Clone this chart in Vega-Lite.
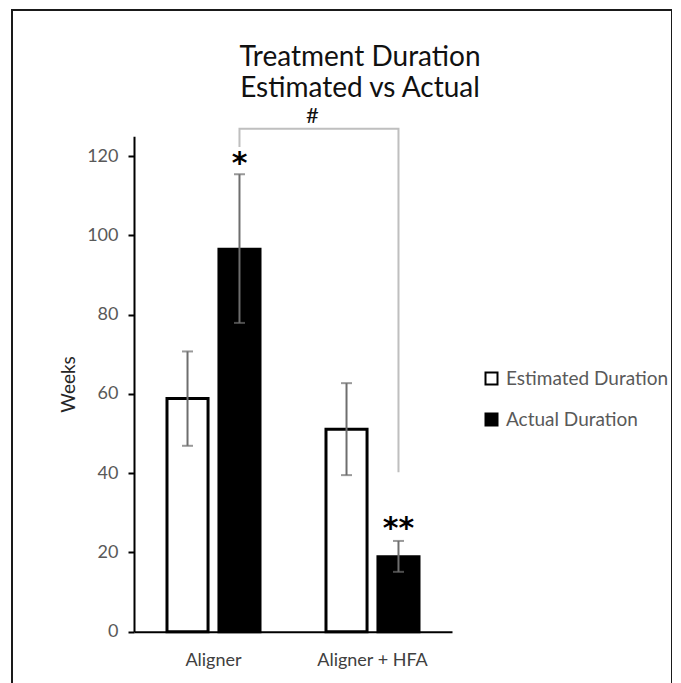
{
  "$schema": "https://vega.github.io/schema/vega-lite/v6.json",
  "autosize": {"type": "none"},
  "padding": {"left": 12, "top": 10, "right": 0, "bottom": 0},
  "width": 660,
  "height": 700,
  "background": "white",
  "config": {
    "view": {"stroke": "#1a1a1a", "strokeWidth": 2},
    "font": "Lato"
  },
  "title": {
    "text": ["Treatment Duration", "Estimated vs Actual"],
    "font": "Lato",
    "fontSize": 28,
    "fontWeight": "normal",
    "color": "#111111",
    "anchor": "middle",
    "frame": "group",
    "baseline": "top",
    "offset": 0,
    "lineHeight": 31,
    "dx": 18,
    "dy": 93
  },
  "datasets": {
    "bars": [
      {"group": "Aligner", "series": "Estimated Duration", "value": 58.8, "lo": 46.9, "hi": 70.7},
      {"group": "Aligner", "series": "Actual Duration", "value": 96.5, "lo": 77.9, "hi": 115.4},
      {"group": "Aligner + HFA", "series": "Estimated Duration", "value": 51.1, "lo": 39.5, "hi": 62.7},
      {"group": "Aligner + HFA", "series": "Actual Duration", "value": 18.9, "lo": 15.1, "hi": 22.9}
    ],
    "stars": [
      {"group": "Aligner", "series": "Actual Duration", "y": 115.6, "label": "*"},
      {"group": "Aligner + HFA", "series": "Actual Duration", "y": 23.6, "label": "**"}
    ],
    "bracket": [
      {"group": "Aligner", "series": "Actual Duration", "y": 122.3, "order": 1},
      {"group": "Aligner", "series": "Actual Duration", "y": 126.9, "order": 2},
      {"group": "Aligner + HFA", "series": "Actual Duration", "y": 126.9, "order": 3},
      {"group": "Aligner + HFA", "series": "Actual Duration", "y": 40.2, "order": 4}
    ],
    "hash": [
      {"group": "Aligner", "series": "Actual Duration", "y": 128.3, "label": "#"}
    ]
  },
  "encoding": {
    "x": {
      "field": "group",
      "type": "nominal",
      "sort": ["Aligner", "Aligner + HFA"],
      "scale": {"domain": ["Aligner", "Aligner + HFA"], "range": [122, 440], "paddingInner": 0.415, "paddingOuter": 0.2075},
      "axis": {
        "title": null,
        "orient": "bottom",
        "offset": -78.3,
        "ticks": false,
        "labelAngle": 0,
        "labelFont": "Lato",
        "labelFontSize": 18,
        "labelColor": "#404040",
        "labelPadding": 20,
        "domainColor": "#000000",
        "domainWidth": 2,
        "grid": false
      }
    },
    "xOffset": {
      "field": "series",
      "type": "nominal",
      "sort": ["Estimated Duration", "Actual Duration"],
      "scale": {"domain": ["Estimated Duration", "Actual Duration"], "paddingInner": 0.21, "paddingOuter": 0}
    }
  },
  "layer": [
    {
      "data": {"name": "bars"},
      "mark": {"type": "bar", "stroke": "#000000", "strokeWidth": 3},
      "encoding": {
        "y": {
          "field": "value",
          "type": "quantitative",
          "scale": {"domain": [0, 125], "range": [621.7, 126.2], "nice": false, "zero": true},
          "axis": {
            "title": "Weeks",
            "orient": "left",
            "offset": -122,
            "values": [0, 20, 40, 60, 80, 100, 120],
            "grid": false,
            "tickSize": 6,
            "tickColor": "#000000",
            "tickWidth": 2,
            "domainColor": "#000000",
            "domainWidth": 2,
            "labelFont": "Lato",
            "labelFontSize": 18,
            "labelColor": "#595959",
            "labelPadding": 10,
            "titleFont": "Lato",
            "titleFontSize": 19,
            "titleFontWeight": "normal",
            "titleColor": "#262626",
            "titlePadding": 8
          }
        },
        "fill": {
          "field": "series",
          "type": "nominal",
          "sort": ["Estimated Duration", "Actual Duration"],
          "scale": {"domain": ["Estimated Duration", "Actual Duration"], "range": ["#ffffff", "#000000"]},
          "legend": {
            "title": null,
            "orient": "none",
            "legendX": 470,
            "legendY": 359,
            "symbolType": "square",
            "symbolSize": 144,
            "symbolStrokeColor": "#000000",
            "symbolStrokeWidth": 2,
            "labelFont": "Lato",
            "labelFontSize": 19,
            "labelColor": "#595959",
            "labelOffset": 5,
            "labelLimit": 400,
            "rowPadding": 20
          }
        }
      }
    },
    {
      "data": {"name": "bars"},
      "mark": {"type": "rule", "color": "#6e6e6e", "strokeWidth": 2},
      "encoding": {
        "y": {"field": "lo", "type": "quantitative"},
        "y2": {"field": "hi"}
      }
    },
    {
      "data": {"name": "bars"},
      "mark": {"type": "tick", "color": "#6e6e6e", "thickness": 2, "size": 11, "orient": "horizontal"},
      "encoding": {
        "y": {"field": "lo", "type": "quantitative"}
      }
    },
    {
      "data": {"name": "bars"},
      "mark": {"type": "tick", "color": "#6e6e6e", "thickness": 2, "size": 11, "orient": "horizontal"},
      "encoding": {
        "y": {"field": "hi", "type": "quantitative"}
      }
    },
    {
      "data": {"name": "bracket"},
      "mark": {"type": "line", "color": "#bfbfbf", "strokeWidth": 2, "interpolate": "linear"},
      "encoding": {
        "y": {"field": "y", "type": "quantitative"},
        "order": {"field": "order", "type": "quantitative"}
      }
    },
    {
      "data": {"name": "stars"},
      "mark": {"type": "text", "font": "DejaVu Sans", "fontSize": 30, "fontWeight": "bold", "baseline": "alphabetic", "align": "center", "color": "#000000"},
      "encoding": {
        "y": {"field": "y", "type": "quantitative"},
        "text": {"field": "label"}
      }
    },
    {
      "data": {"name": "hash"},
      "mark": {"type": "text", "font": "Lato", "fontSize": 22, "baseline": "alphabetic", "align": "center", "color": "#111111", "dx": 73},
      "encoding": {
        "y": {"field": "y", "type": "quantitative"},
        "text": {"field": "label"}
      }
    }
  ]
}
